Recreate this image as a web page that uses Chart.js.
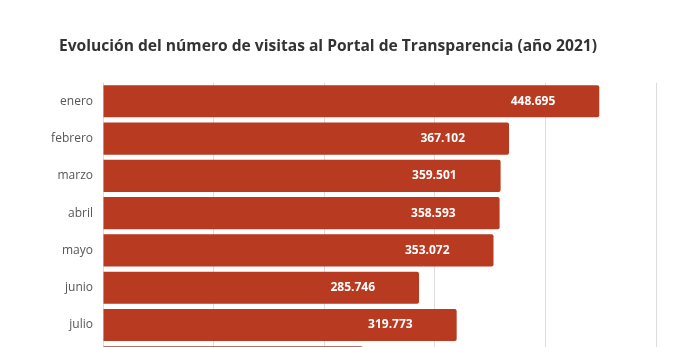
<!DOCTYPE html>
<html>
<head>
<meta charset="utf-8">
<script src="https://cdn.jsdelivr.net/npm/chart.js@4/dist/chart.umd.min.js"></script>
<style>
  html, body { margin: 0; padding: 0; background: #fff; overflow: hidden; }
  #wrap { width: 660px; height: 390px; }
</style>
</head>
<body>
<div id="wrap"><canvas id="visitasChart"></canvas></div>
<script>
// Visitas mensuales al Portal de Transparencia (2021)
var meses = ['enero', 'febrero', 'marzo', 'abril', 'mayo', 'junio', 'julio', 'agosto'];
var visitas = [448695, 367102, 359501, 358593, 353072, 285746, 319773, 235000];
var etiquetas = ['448.695', '367.102', '359.501', '358.593', '353.072', '285.746', '319.773', ''];
var ejeTicks = [0, 100000, 200000, 300000, 400000, 500000];

// Etiquetas blancas dentro de cada barra
var valueLabels = {
    id: 'valueLabels',
    afterDatasetsDraw: function(chart) {
        var ctx = chart.ctx;
        var meta = chart.getDatasetMeta(0);
        ctx.save();
        ctx.font = 'bold 12px "Open Sans", sans-serif';
        ctx.fillStyle = '#ffffff';
        ctx.textAlign = 'right';
        ctx.textBaseline = 'middle';
        meta.data.forEach(function(bar, i) {
            ctx.fillText(etiquetas[i], bar.x - 44, bar.y);
        });
        ctx.restore();
    }
};

new Chart(document.getElementById('visitasChart'), {
    type: 'bar',
    data: {
        labels: meses,
        datasets: [{
            data: visitas,
            backgroundColor: '#b83a21',
            borderRadius: 2,
            borderSkipped: 'start',
            categoryPercentage: 1,
            barPercentage: 0.86
        }]
    },
    options: {
        indexAxis: 'y',
        responsive: true,
        maintainAspectRatio: false,
        animation: false,
        layout: {
            padding: { left: 0, right: 4, top: 0, bottom: 0 }
        },
        scales: {
            x: {
                min: 0,
                max: 500000,
                afterBuildTicks: function(scale) {
                    scale.ticks = ejeTicks.map(function(v) { return { value: v }; });
                },
                grid: { color: '#dddddd', lineWidth: 1, drawTicks: false },
                border: { display: false },
                ticks: { display: false }
            },
            y: {
                grid: { display: false },
                border: { display: false },
                afterFit: function(scale) { scale.width = 103; },
                ticks: {
                    color: '#555555',
                    padding: 2,
                    font: { family: '"Open Sans", sans-serif', size: 12 }
                }
            }
        },
        plugins: {
            legend: { display: false },
            tooltip: { enabled: false },
            title: {
                display: true,
                text: 'Evolución del número de visitas al Portal de Transparencia (año 2021)',
                color: '#333333',
                padding: { top: 37, bottom: 27 },
                font: { family: '"Open Sans", sans-serif', size: 15.6, weight: 'bold' }
            }
        }
    },
    plugins: [valueLabels]
});
</script>
</body>
</html>
